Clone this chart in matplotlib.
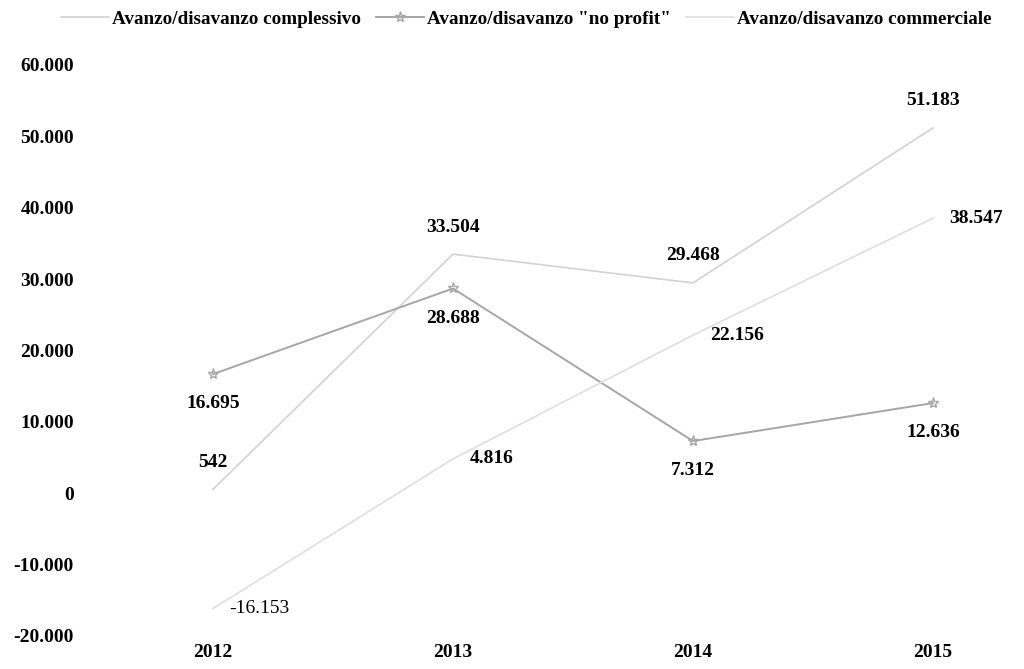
import matplotlib
matplotlib.use("Agg")
from matplotlib import pyplot as plt

# data
years = ["2012", "2013", "2014", "2015"]
complessivo = [542, 33504, 29468, 51183]
no_profit = [16695, 28688, 7312, 12636]
commerciale = [-16153, 4816, 22156, 38547]
yticks = [-20000, -10000, 0, 10000, 20000, 30000, 40000, 50000, 60000]


def fmt(v):
    return "{:,}".format(v).replace(",", ".")


plt.rcParams["font.family"] = ["Liberation Serif", "DejaVu Serif"]

fig = plt.figure(figsize=(10.24, 6.69), dpi=100)
ax = fig.add_axes([85 / 1024, 1 - 636 / 669, 925 / 1024, 571 / 669])

x = list(range(len(years)))
c_col = "#d2d2d2"
n_col = "#a6a6a6"
m_col = "#dedede"

ax.plot(x, complessivo, color=c_col, lw=1.2, label="Avanzo/disavanzo complessivo")
ax.plot(x, no_profit, color=n_col, lw=1.4, marker="*", ms=8, mfc="none",
        mec=n_col, label='Avanzo/disavanzo "no profit"')
ax.plot(x, commerciale, color=m_col, lw=1.2, label="Avanzo/disavanzo commerciale")

# data labels: total above, no profit below, commercial to the right
for i, v in enumerate(complessivo):
    ax.annotate(fmt(v), (i, v), xytext=(0, 19.5), textcoords="offset points",
                ha="center", va="center", fontsize=14, fontweight="bold")
for i, v in enumerate(no_profit):
    ax.annotate(fmt(v), (i, v), xytext=(0, -21.5), textcoords="offset points",
                ha="center", va="center", fontsize=14, fontweight="bold")
for i, v in enumerate(commerciale):
    ax.annotate(fmt(v), (i, v), xytext=(12, 0), textcoords="offset points",
                ha="left", va="center", fontsize=14,
                fontweight="normal" if v < 0 else "bold")

ax.set_xlim(-128 / 240, 797 / 240)
ax.set_ylim(-20000, 60000)
ax.set_yticks(yticks)
ax.set_yticklabels([fmt(t) for t in yticks], fontsize=14, fontweight="bold")
ax.tick_params(axis="y", length=0, pad=8)
ax.set_xticks(x)
ax.set_xticklabels(years, fontsize=14, fontweight="bold")
ax.tick_params(axis="x", length=0, pad=6)
for s in ax.spines.values():
    s.set_visible(False)

fig.legend(loc="center", bbox_to_anchor=(0.514, 1 - 19 / 669), ncol=3,
           frameon=False, prop={"size": 13.8, "weight": "bold"},
           handlelength=2.5, columnspacing=0.8, handletextpad=0.15)

fig.savefig("out.png", dpi=100)
